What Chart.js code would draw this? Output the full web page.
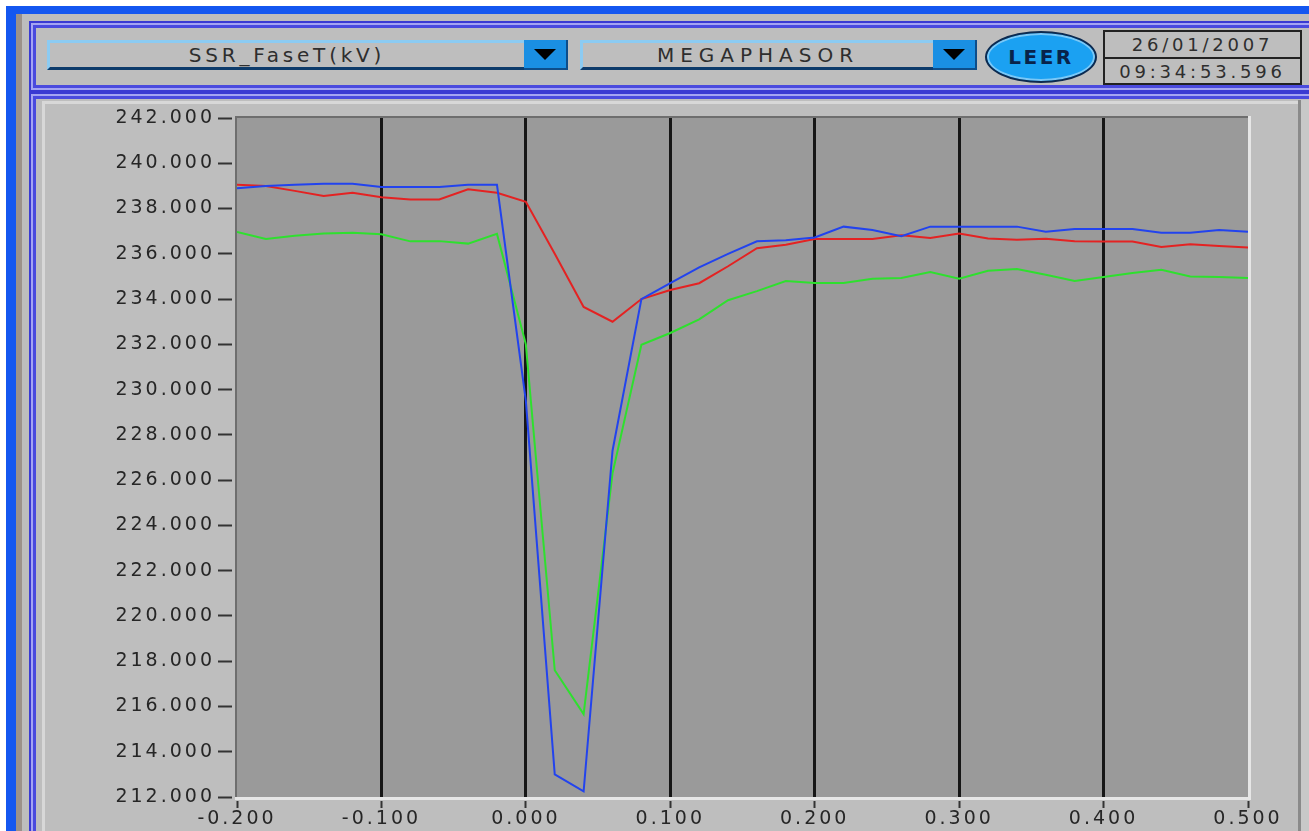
<!DOCTYPE html>
<html>
<head>
<meta charset="utf-8">
<script src="https://cdn.jsdelivr.net/npm/chart.js@4/dist/chart.umd.min.js"></script>
<style>
  body { margin: 0; width: 1309px; height: 831px; overflow: hidden; background: #ffffff; position: relative; font-family: "DejaVu Sans", sans-serif; }
  .abs { position: absolute; }
  #blue { left: 6px; top: 6px; right: 0; bottom: 0; background: #1457f0; }
  #gray { left: 16px; top: 14px; right: 0; bottom: 0; background: #bdbdbd; }
  #strip { left: 16px; top: 14px; width: 6px; bottom: 0; background: #9b918a; }
  .box { background: #bebebe; box-shadow: inset 0 0 0 2px #3a3ad2, inset 0 0 0 4px #a4a4f2, inset 0 0 0 7px #4a4ade; }
  #head { left: 29px; top: 21px; width: 1300px; height: 71px; }
  #panel { left: 29px; top: 92px; width: 1300px; height: 760px; }
  #inset { left: 42px; top: 101px; width: 1256px; height: 740px; border-left: 3px solid #d8d8d8; border-top: 3px solid #d8d8d8; }
  #edge1 { left: 1298px; top: 100px; width: 3px; bottom: 0; background: #8a8a8a; }
  #edge2 { left: 1301px; top: 100px; width: 8px; bottom: 0; background: #c8c8c8; }
  .dd { top: 40px; height: 24px; background: #bebebe; border-top: 3px solid #8ccbf2; border-left: 3px solid #8ccbf2; border-bottom: 3px solid #0d3b6b; color: #2e2e2e; font-size: 20px; line-height: 25px; text-align: center; }
  .btn { top: 40px; width: 42px; height: 28px; background: #1a8fe3; border-right: 2px solid #0d4d8a; border-bottom: 2px solid #0d4d8a; }
  .tri { position: absolute; left: 10px; top: 9px; width: 0; height: 0; border-left: 11px solid transparent; border-right: 11px solid transparent; border-top: 11px solid #000; }
  #leer { left: 985px; top: 31px; width: 108px; height: 48px; border-radius: 50%; background: #1ba1f2; border: 2px solid #0c2a50; box-shadow: inset 0 0 0 2px #7cc8f6; color: #08234a; font-weight: bold; font-size: 20px; line-height: 49px; text-align: center; letter-spacing: 2.5px; }
  #stamp { left: 1103px; top: 30px; width: 195px; height: 51px; border: 2px solid #222; color: #2e2e2e; font-size: 18px; letter-spacing: 3.8px; text-align: center; }
  #stamp div { height: 25px; line-height: 26px; }
  #stamp div + div { border-top: 2px solid #222; height: 24px; }
  #graph { position: absolute; left: 0; top: 0; }
</style>
</head>
<body>
<div class="abs" id="blue"></div>
<div class="abs" id="gray"></div>
<div class="abs" id="strip"></div>
<div class="abs box" id="head"></div>
<div class="abs box" id="panel"></div>
<div class="abs" id="inset"></div>
<div class="abs" id="edge1"></div>
<div class="abs" id="edge2"></div>

<div class="abs dd" style="left:47px; width:474px; letter-spacing:3.8px;">SSR_FaseT(kV)</div>
<div class="abs btn" style="left:524px;"><div class="tri"></div></div>
<div class="abs dd" style="left:580px; width:350px; letter-spacing:6px;">MEGAPHASOR</div>
<div class="abs btn" style="left:933px;"><div class="tri"></div></div>
<div class="abs" id="leer">LEER</div>
<div class="abs" id="stamp"><div>26/01/2007</div><div>09:34:53.596</div></div>

<canvas id="graph" width="1309" height="831"></canvas>

<script>
// time axis (s) and phase voltages (kV)
const times = [-0.20, -0.18, -0.16, -0.14, -0.12, -0.10, -0.08, -0.06, -0.04, -0.02,
  0.00, 0.02, 0.04, 0.06, 0.08, 0.10, 0.12, 0.14, 0.16, 0.18,
  0.20, 0.22, 0.24, 0.26, 0.28, 0.30, 0.32, 0.34, 0.36, 0.38,
  0.40, 0.42, 0.44, 0.46, 0.48, 0.50];

const blueKV = [238.9, 239.0, 239.05, 239.1, 239.1, 238.95, 238.95, 238.95, 239.05, 239.05,
  229.5, 213.0, 212.25, 227.3, 234.0, 234.7, 235.4, 236.0, 236.55, 236.6,
  236.72, 237.2, 237.05, 236.78, 237.2, 237.2, 237.2, 237.2, 236.97, 237.1,
  237.1, 237.1, 236.93, 236.93, 237.05, 236.97];

const redKV = [239.05, 239.0, 238.78, 238.55, 238.7, 238.5, 238.4, 238.4, 238.85, 238.7,
  238.3, 236.0, 233.65, 233.0, 234.0, 234.4, 234.7, 235.45, 236.25, 236.4,
  236.65, 236.65, 236.65, 236.82, 236.7, 236.9, 236.68, 236.62, 236.66, 236.55,
  236.54, 236.54, 236.3, 236.42, 236.35, 236.28];

const greenKV = [236.97, 236.65, 236.8, 236.9, 236.93, 236.86, 236.55, 236.56, 236.45, 236.88,
  232.0, 217.6, 215.66, 226.3, 231.98, 232.5, 233.1, 233.95, 234.35, 234.8,
  234.71, 234.71, 234.9, 234.93, 235.2, 234.9, 235.25, 235.33, 235.07, 234.8,
  234.97, 235.15, 235.29, 235.0, 234.97, 234.93];

const xTicks = [-0.2, -0.1, 0.0, 0.1, 0.2, 0.3, 0.4, 0.5];
const yTicks = [212, 214, 216, 218, 220, 222, 224, 226, 228, 230, 232, 234, 236, 238, 240, 242];

function pts(vals) {
  return times.map((t, i) => ({ x: t, y: vals[i] }));
}

// gray plot area with sunken border
const plotBack = {
  id: 'plotBack',
  beforeDraw(chart) {
    const c = chart.ctx, a = chart.chartArea;
    c.save();
    c.fillStyle = '#9a9a9a';
    c.fillRect(a.left, a.top, a.right - a.left, a.bottom - a.top);
    c.fillStyle = '#6e6e6e';
    c.fillRect(a.left - 2, a.top - 2, 2, a.bottom - a.top + 2);
    c.fillRect(a.left - 2, a.top - 2, a.right - a.left + 2, 2);
    c.fillStyle = '#e6e6e6';
    c.fillRect(a.right, a.top - 2, 3, a.bottom - a.top + 5);
    c.fillRect(a.left - 2, a.bottom, a.right - a.left + 5, 3);
    c.restore();
  }
};

// wide labels like the LabVIEW font
const wideText = {
  id: 'wideText',
  beforeLayout(chart) { chart.ctx.letterSpacing = '3px'; },
  beforeDraw(chart) { chart.ctx.letterSpacing = '3px'; }
};

const tickFont = { family: 'DejaVu Sans', size: 19 };

let ctx = document.getElementById('graph').getContext('2d');
let graph = new Chart(ctx, {
  type: 'line',
  data: {
    datasets: [
      { label: 'A', data: pts(blueKV), borderColor: '#2243ee', borderWidth: 2, pointRadius: 0, tension: 0 },
      { label: 'B', data: pts(redKV), borderColor: '#e42222', borderWidth: 2, pointRadius: 0, tension: 0 },
      { label: 'C', data: pts(greenKV), borderColor: '#2ee02e', borderWidth: 2, pointRadius: 0, tension: 0 }
    ]
  },
  options: {
    responsive: false,
    animation: false,
    devicePixelRatio: 1,
    layout: { padding: { left: 0, top: 118, right: 61, bottom: 0 } },
    plugins: { legend: { display: false }, tooltip: { enabled: false } },
    scales: {
      x: {
        type: 'linear',
        min: -0.2,
        max: 0.5,
        afterBuildTicks: s => { s.ticks = xTicks.map(v => ({ value: v })); },
        afterFit: s => { s.height = 34; },
        border: { display: false },
        grid: {
          color: c => (c.index === 0 || c.index === xTicks.length - 1) ? 'rgba(0,0,0,0)' : '#161616',
          lineWidth: 3,
          tickColor: '#333',
          tickWidth: 2,
          tickLength: 11,
          tickBorderDash: [0, 4, 7, 20]
        },
        ticks: { color: '#262626', font: tickFont, padding: 0, maxRotation: 0, callback: v => v.toFixed(3) }
      },
      y: {
        min: 212,
        max: 242,
        afterBuildTicks: s => { s.ticks = yTicks.map(v => ({ value: v })); },
        afterFit: s => { s.width = 237; },
        border: { display: false },
        grid: {
          drawOnChartArea: false,
          tickColor: '#333',
          tickWidth: 2,
          tickLength: 19,
          tickBorderDash: [14, 20]
        },
        ticks: { color: '#262626', font: tickFont, padding: 3, callback: v => v.toFixed(3) }
      }
    }
  },
  plugins: [plotBack, wideText]
});
</script>
</body>
</html>
